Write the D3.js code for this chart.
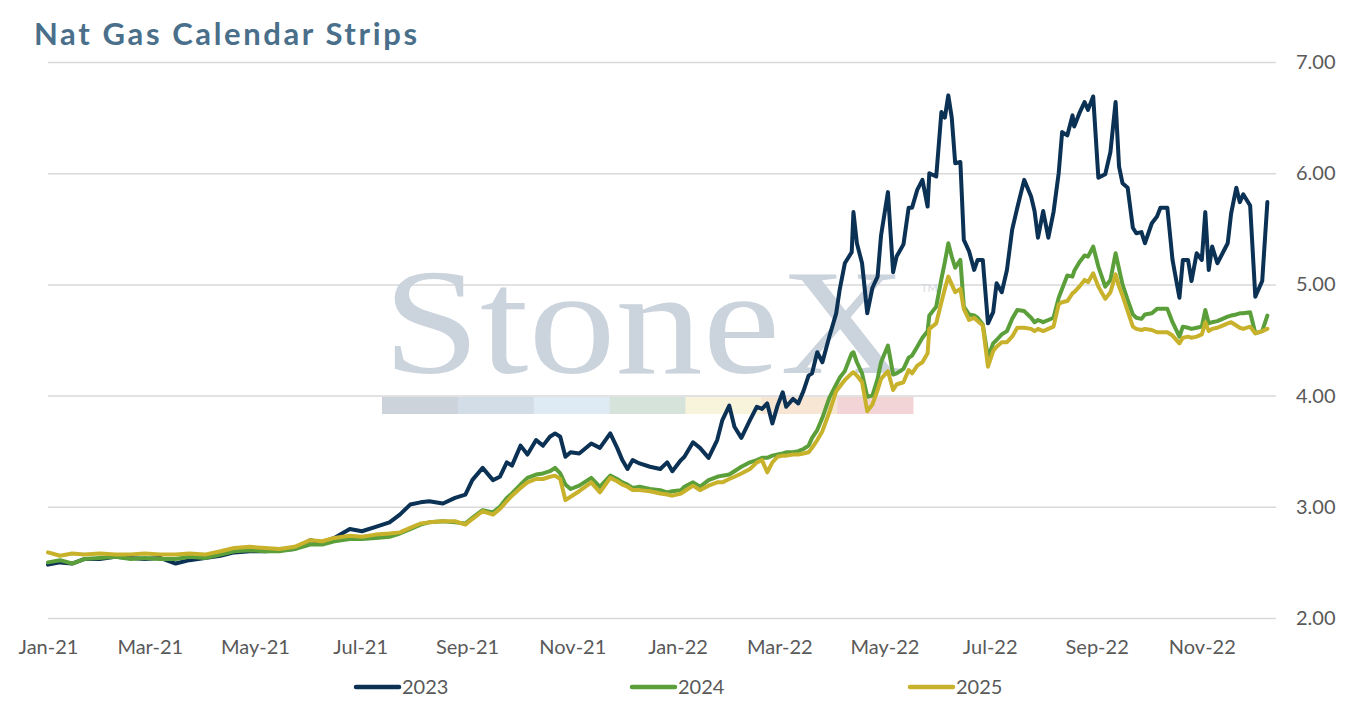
<!DOCTYPE html>
<html><head><meta charset="utf-8">
<script src="https://cdn.jsdelivr.net/npm/d3@7"></script>
<style>body{margin:0;background:#fff;} svg{display:block;font-family:Lato,"Open Sans",sans-serif;}</style>
</head><body><svg id="c" width="1354" height="708"></svg>
<script>
const dates = [
"2021-01-01","2021-01-08","2021-01-15","2021-01-22","2021-01-31","2021-02-09","2021-02-18","2021-02-26","2021-03-07","2021-03-16",
"2021-03-24","2021-04-02","2021-04-11","2021-04-19","2021-04-28","2021-05-07","2021-05-15","2021-05-24","2021-06-02","2021-06-09",
"2021-06-16","2021-06-25","2021-07-02","2021-07-10","2021-07-18","2021-07-24","2021-07-30","2021-08-05","2021-08-10","2021-08-18",
"2021-08-25","2021-08-31","2021-09-04","2021-09-10","2021-09-16","2021-09-20","2021-09-24","2021-09-27","2021-10-02","2021-10-06",
"2021-10-11","2021-10-15","2021-10-19","2021-10-22","2021-10-25","2021-10-28","2021-10-31","2021-11-05","2021-11-12","2021-11-17",
"2021-11-23","2021-11-27","2021-11-30","2021-12-03","2021-12-06","2021-12-10","2021-12-16","2021-12-22","2021-12-26","2021-12-29",
"2022-01-03","2022-01-05","2022-01-10","2022-01-14","2022-01-19","2022-01-24","2022-01-27","2022-01-31","2022-02-03","2022-02-07",
"2022-02-12","2022-02-16","2022-02-19","2022-02-22","2022-02-25","2022-02-28","2022-03-03","2022-03-05","2022-03-09","2022-03-12",
"2022-03-15","2022-03-18","2022-03-20","2022-03-23","2022-03-26","2022-03-30","2022-04-03","2022-04-05","2022-04-08","2022-04-12",
"2022-04-13","2022-04-15","2022-04-18","2022-04-21","2022-04-24","2022-04-27","2022-04-29","2022-05-03","2022-05-06","2022-05-08",
"2022-05-12","2022-05-15","2022-05-17","2022-05-20","2022-05-23","2022-05-26","2022-05-27","2022-05-31","2022-06-03","2022-06-05",
"2022-06-07","2022-06-09","2022-06-11","2022-06-14","2022-06-16","2022-06-19","2022-06-22","2022-06-24","2022-06-27","2022-06-30",
"2022-07-03","2022-07-05","2022-07-08","2022-07-11","2022-07-14","2022-07-17","2022-07-21","2022-07-25","2022-07-27","2022-07-29",
"2022-08-01","2022-08-04","2022-08-07","2022-08-10","2022-08-12","2022-08-15","2022-08-18","2022-08-19","2022-08-22","2022-08-25",
"2022-08-27","2022-08-30","2022-09-02","2022-09-06","2022-09-09","2022-09-12","2022-09-14","2022-09-16","2022-09-19","2022-09-22",
"2022-09-24","2022-09-27","2022-09-29","2022-10-03","2022-10-06","2022-10-08","2022-10-12","2022-10-15","2022-10-19","2022-10-21",
"2022-10-24","2022-10-26","2022-10-29","2022-11-01","2022-11-03","2022-11-05","2022-11-07","2022-11-10","2022-11-13","2022-11-16",
"2022-11-18","2022-11-21","2022-11-23","2022-11-25","2022-11-29","2022-12-02","2022-12-06","2022-12-09"
];
const s2023 = [
2.48,2.50,2.49,2.53,2.53,2.55,2.54,2.53,2.54,2.49,
2.52,2.54,2.56,2.59,2.60,2.60,2.61,2.62,2.70,2.68,
2.72,2.80,2.78,2.82,2.86,2.93,3.02,3.04,3.05,3.03,
3.08,3.11,3.24,3.35,3.24,3.27,3.40,3.37,3.55,3.47,
3.60,3.55,3.63,3.66,3.63,3.45,3.49,3.48,3.57,3.53,
3.66,3.53,3.42,3.34,3.42,3.39,3.36,3.34,3.40,3.32,
3.42,3.45,3.58,3.53,3.44,3.60,3.78,3.91,3.72,3.62,
3.78,3.90,3.88,3.93,3.75,3.91,4.03,3.90,3.97,3.93,
4.04,4.18,4.20,4.39,4.30,4.53,4.74,4.95,5.19,5.29,
5.65,5.37,5.19,4.74,4.97,5.07,5.44,5.83,5.11,5.25,
5.36,5.69,5.69,5.85,5.94,5.70,6.00,5.97,6.55,6.50,
6.70,6.50,6.09,6.10,5.40,5.30,5.13,5.22,5.22,4.65,
4.75,5.01,4.93,5.13,5.49,5.69,5.94,5.79,5.66,5.42,
5.66,5.42,5.65,6.00,6.37,6.34,6.52,6.42,6.54,6.64,
6.57,6.69,5.96,5.99,6.19,6.64,6.06,5.91,5.87,5.51,
5.46,5.47,5.37,5.55,5.61,5.69,5.69,5.22,4.88,5.22,
5.22,5.03,5.28,5.22,5.65,5.13,5.34,5.19,5.28,5.37,
5.64,5.87,5.74,5.81,5.71,4.89,5.03,5.74
];
const s2024 = [
2.50,2.52,2.49,2.53,2.54,2.55,2.53,2.54,2.53,2.53,
2.55,2.54,2.57,2.60,2.61,2.60,2.60,2.62,2.66,2.66,
2.69,2.71,2.71,2.72,2.73,2.76,2.80,2.84,2.86,2.87,
2.86,2.85,2.90,2.97,2.95,3.00,3.08,3.12,3.20,3.26,
3.29,3.30,3.32,3.35,3.30,3.20,3.16,3.19,3.26,3.18,
3.28,3.25,3.22,3.20,3.17,3.18,3.16,3.15,3.13,3.14,
3.15,3.18,3.22,3.18,3.24,3.27,3.28,3.29,3.32,3.36,
3.40,3.42,3.44,3.44,3.46,3.47,3.48,3.49,3.49,3.50,
3.52,3.55,3.62,3.69,3.80,3.98,4.10,4.16,4.22,4.38,
4.39,4.30,4.20,3.99,4.00,4.15,4.30,4.45,4.19,4.20,
4.24,4.34,4.36,4.44,4.52,4.58,4.72,4.80,5.05,5.20,
5.37,5.25,5.15,5.22,4.80,4.73,4.72,4.70,4.64,4.34,
4.47,4.50,4.55,4.58,4.69,4.77,4.76,4.70,4.66,4.68,
4.66,4.68,4.70,4.88,4.96,5.08,5.07,5.12,5.20,5.26,
5.25,5.34,5.16,4.98,5.04,5.28,5.14,5.00,4.86,4.73,
4.70,4.69,4.73,4.74,4.78,4.78,4.78,4.66,4.53,4.62,
4.61,4.60,4.61,4.62,4.77,4.65,4.66,4.67,4.69,4.71,
4.72,4.73,4.74,4.74,4.75,4.56,4.58,4.72
];
const s2025 = [
2.59,2.56,2.58,2.57,2.58,2.57,2.57,2.58,2.57,2.57,
2.58,2.57,2.60,2.63,2.64,2.63,2.62,2.64,2.70,2.69,
2.72,2.74,2.73,2.75,2.76,2.77,2.81,2.85,2.86,2.87,
2.87,2.84,2.89,2.96,2.93,2.98,3.05,3.10,3.17,3.22,
3.25,3.25,3.27,3.28,3.25,3.06,3.09,3.14,3.22,3.13,
3.26,3.23,3.20,3.18,3.15,3.15,3.14,3.12,3.11,3.10,
3.12,3.14,3.19,3.15,3.19,3.22,3.22,3.25,3.27,3.30,
3.34,3.40,3.42,3.31,3.40,3.45,3.46,3.46,3.47,3.47,
3.48,3.49,3.53,3.60,3.68,3.85,4.04,4.08,4.14,4.20,
4.21,4.18,4.12,3.86,3.92,4.05,4.15,4.22,4.05,4.10,
4.12,4.23,4.20,4.27,4.30,4.38,4.60,4.65,4.84,4.96,
5.07,5.00,4.93,4.96,4.78,4.68,4.70,4.67,4.63,4.26,
4.40,4.44,4.48,4.48,4.53,4.61,4.61,4.60,4.58,4.60,
4.58,4.60,4.62,4.82,4.84,4.85,4.92,4.93,4.98,5.04,
5.02,5.10,4.98,4.87,4.93,5.09,4.98,4.90,4.76,4.62,
4.60,4.59,4.60,4.59,4.57,4.57,4.57,4.54,4.47,4.52,
4.53,4.52,4.53,4.55,4.66,4.58,4.60,4.61,4.63,4.65,
4.66,4.63,4.61,4.60,4.62,4.56,4.58,4.60
];
const seriesNames = ["2023", "2024", "2025"];
const seriesColors = ["#0b3154", "#5b9f3a", "#c9b22b"];
const xTickDates = ["2021-01-01","2021-03-01","2021-05-01","2021-07-01","2021-09-01","2021-11-01",
                    "2022-01-01","2022-03-01","2022-05-01","2022-07-01","2022-09-01","2022-11-01"];
const xTickLabels = ["Jan-21","Mar-21","May-21","Jul-21","Sep-21","Nov-21",
                     "Jan-22","Mar-22","May-22","Jul-22","Sep-22","Nov-22"];
const yTicks = [2, 3, 4, 5, 6, 7];
const titleText = "Nat Gas Calendar Strips";
const watermarkColors = ["#cdd3db","#d3dde7","#deebf4","#d5e3db","#f8f4dc","#f8e6d4","#f2d4d7"];

const parse = d3.timeParse("%Y-%m-%d");
const svg = d3.select("#c");
const L = 48, R = 1276, T = 62, B = 618;
const x = d3.scaleTime().domain([parse("2021-01-01"), parse("2022-12-14")]).range([L, R]);
const y = d3.scaleLinear().domain([2, 7]).range([B, T]);

// title
svg.append("text").attr("x", 34).attr("y", 45)
  .attr("font-size", 31).attr("font-weight", 700).attr("fill", "#4a6f8b")
  .attr("textLength", 383).attr("lengthAdjust", "spacing")
  .text(titleText);

// y axis with gridlines
const yAxis = svg.append("g").attr("transform", `translate(${R},0)`)
  .call(d3.axisRight(y).tickValues(yTicks).tickFormat(d3.format(".2f")).tickSize(-(R - L)).tickPadding(20));
yAxis.select(".domain").remove();
yAxis.selectAll(".tick line").attr("stroke", "#d9d9d9").attr("stroke-width", 1.5);
yAxis.selectAll(".tick text").attr("font-size", 20).attr("fill", "#595959").attr("font-family", "Lato, sans-serif");

// watermark
const wm = svg.append("g");
wm.append("text").attr("x", 383).attr("y", 373)
  .attr("font-family", "'Liberation Serif','DejaVu Serif',serif")
  .attr("font-size", 150).attr("fill", "#cbd3dc")
  .attr("textLength", 523).attr("lengthAdjust", "spacingAndGlyphs")
  .text("StoneX");
wm.append("text").attr("x", 921).attr("y", 292).attr("font-size", 11).attr("fill", "#d3d9e0").text("TM");
const segW = (913 - 382) / watermarkColors.length;
wm.selectAll("rect").data(watermarkColors).join("rect")
  .attr("x", (d, i) => 382 + i * segW).attr("y", 397).attr("width", segW + 0.5).attr("height", 17)
  .attr("fill", d => d);

// x axis
const xAxis = svg.append("g").attr("transform", `translate(0,${B})`)
  .call(d3.axisBottom(x).tickValues(xTickDates.map(parse))
    .tickFormat((d, i) => xTickLabels[i]).tickSize(0).tickPadding(22));
xAxis.select(".domain").remove();
xAxis.selectAll(".tick text").attr("font-size", 20).attr("fill", "#595959").attr("font-family", "Lato, sans-serif");

// lines
const seriesData = [s2023, s2024, s2025];
const line = d3.line().x((d, i) => x(parse(dates[i]))).y(d => y(d));
seriesData.forEach((s, k) => {
  svg.append("path").datum(s).attr("d", line)
    .attr("fill", "none").attr("stroke", seriesColors[k]).attr("stroke-width", 4)
    .attr("stroke-linejoin", "round").attr("stroke-linecap", "round");
});

// legend
const legendX = [356, 632, 910];
seriesNames.forEach((n, k) => {
  const g = svg.append("g");
  g.append("line").attr("x1", legendX[k]).attr("x2", legendX[k] + 43).attr("y1", 687).attr("y2", 687)
    .attr("stroke", seriesColors[k]).attr("stroke-width", 4.5).attr("stroke-linecap", "round");
  g.append("text").attr("x", legendX[k] + 46).attr("y", 694).attr("font-size", 20).attr("fill", "#595959").text(n);
});
</script></body></html>
